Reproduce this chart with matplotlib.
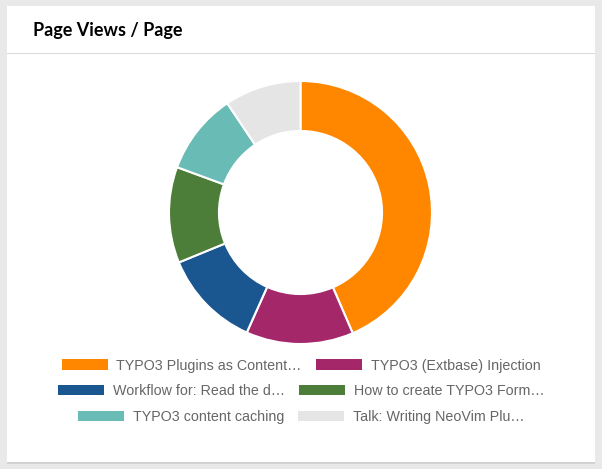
import matplotlib
matplotlib.use('Agg')
import matplotlib.pyplot as plt
import matplotlib.patches as mpatches

## data
pages = ['TYPO3 Plugins as Content…', 'TYPO3 (Extbase) Injection',
         'Workflow for: Read the d…', 'How to create TYPO3 Form…',
         'TYPO3 content caching', 'Talk: Writing NeoVim Plu…']
views = [435, 132, 121, 118, 100, 94]
colors = ['#ff8700', '#a4276a', '#1a568f', '#4c7e3a', '#69bbb5', '#e5e5e5']
title = 'Page Views / Page'

W, H = 602, 469
fig = plt.figure(figsize=(W / 100, H / 100), dpi=100)
fig.patch.set_facecolor('#e9e9e9')

## card + shadow
def px_rect(x0, y0, x1, y1, **kw):
    return mpatches.Rectangle((x0 / W, 1 - y1 / H), (x1 - x0) / W, (y1 - y0) / H,
                              transform=fig.transFigure, **kw)

fig.patches.append(px_rect(7, 7, 595, 464, facecolor='#d2d2d2', edgecolor='none', zorder=-3))
fig.patches.append(px_rect(7, 6, 595, 462, facecolor='white', edgecolor='none', zorder=-2))
fig.patches.append(px_rect(7, 53.5, 595, 54.5, facecolor='#d9d9d9', edgecolor='none', zorder=-1))

fig.text(33 / W, 1 - 36 / H, title, fontsize=13, fontweight='bold', family='Lato',
         color='black', va='baseline', ha='left')

## donut
cx, cy, r = 300.5, 212.5, 131.5
ax = fig.add_axes([(cx - r) / W, (H - cy - r) / H, 2 * r / W, 2 * r / H])
ax.set_zorder(5)
wedges, _ = ax.pie(views, colors=colors, startangle=90, counterclock=False, radius=1,
                   wedgeprops=dict(width=0.38, edgecolor='white', linewidth=1.5))
ax.set_xlim(-1, 1)
ax.set_ylim(-1, 1)
ax.set_aspect('equal')
ax.axis('off')

## legend, three centered rows of two
fs = 10.3
fpx = fs / 0.72
row_y = [365.5, 391, 417]
for i, y in enumerate(row_y):
    handles = [mpatches.Patch(facecolor=colors[j], edgecolor='none') for j in (2 * i, 2 * i + 1)]
    fig.legend(handles, pages[2 * i:2 * i + 2], loc='center', bbox_to_anchor=(0.5, 1 - y / H),
               bbox_transform=fig.transFigure, ncol=2, frameon=False, borderpad=0,
               prop={'family': 'Liberation Sans', 'size': fs}, labelcolor='#666666',
               handlelength=46 / fpx, handleheight=11 / fpx, handletextpad=9 / fpx,
               columnspacing=14 / fpx)

fig.savefig('out.png', dpi=100, facecolor=fig.get_facecolor())
